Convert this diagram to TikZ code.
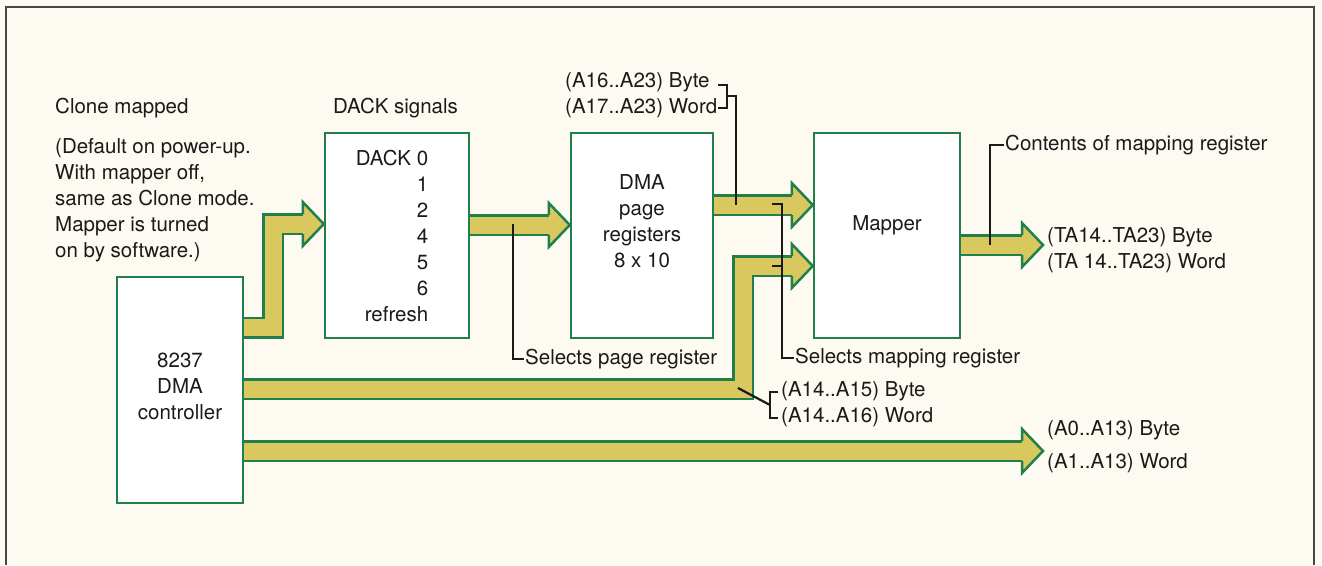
\documentclass[tikz,border=0pt]{standalone}
\usepackage{fontspec}
\setmainfont{TeX Gyre Heros}
\usepackage{xcolor}
\usepackage{tikz}
\usetikzlibrary{arrows.meta,backgrounds,calc}
\definecolor{BusGreen}{HTML}{217F4C}
\definecolor{Mustard}{HTML}{D8C85E}
\definecolor{Paper}{HTML}{FCFAF1}
\definecolor{Ink}{HTML}{1A1A1A}
\definecolor{Frame}{HTML}{484848}

% outlined head of a bus arrow, #1 is the tip
\newcommand{\bushead}[1]{%
  \filldraw[head] ($#1+(-21,-10)$) -- ++(0,-12) -- #1 -- ($#1+(-21,22)$) -- ++(0,-12);}

\begin{document}
\begin{tikzpicture}[
  x=1pt, y=-1pt,
  font=\fontsize{20.5}{26}\selectfont, text=Ink,
  box/.style={draw=BusGreen, line width=2.5pt, fill=white, inner sep=0pt},
  bus/.style={draw=BusGreen, line width=2.5pt, double=Mustard, double distance=17pt,
    line join=miter},
  head/.style={draw=BusGreen, fill=Mustard, line width=2.5pt, line join=miter},
  callout/.style={draw=Ink, line width=2.2pt},
  note/.style={anchor=west, inner sep=1pt}
]
\useasboundingbox (0,0) rectangle (1322,565);

% Frame, open at the bottom.
\draw[Frame, line width=2pt] (6,565) -- (6,7) -- (1314,7) -- (1314,565);

% Boxes.
\node[box, minimum width=126pt, minimum height=226pt] (ctrl) at (180,390) {};
\node[box, minimum width=144pt, minimum height=205pt] (dack) at (397,235.5) {};
\node[box, minimum width=142pt, minimum height=205pt] (page) at (642,235.5) {};
\node[box, minimum width=146pt, minimum height=205pt] (mapper) at (887,235.5) {};

\node[align=center] (ctrltext) at (180,386) {8237\\DMA\\controller};
\node[align=right] (dacktext) at (392,235.5) {DACK 0\\1\\2\\4\\5\\6\\refresh};
\node[align=center] (pagetext) at (642,221) {DMA\\page\\registers\\8 x 10};
\node (mappertext) at (887,225) {Mapper};

% Headings and labels.
\node[note] (clonehead) at (54,108) {Clone mapped};
\node[note, align=left] (clonenote) at (54,200.5)
  {(Default on power-up.\\With mapper off,\\same as Clone mode.\\Mapper is turned\\on by software.)};
\node[note] (dackhead) at (332,108) {DACK signals};
\node[note] (pagebyte) at (564,82) {(A16..A23) Byte};
\node[note] (pageword) at (564,108) {(A17..A23) Word};
\node[note] (contents) at (1004,145) {Contents of mapping register};
\node[note] (outbyte) at (1046,237) {(TA14..TA23) Byte};
\node[note] (outword) at (1046,263) {(TA 14..TA23) Word};
\node[note] (selpage) at (524,359) {Selects page register};
\node[note] (selmap) at (794,358) {Selects mapping register};
\node[note] (lowbyte) at (780,391) {(A14..A15) Byte};
\node[note] (lowword) at (780,417) {(A14..A16) Word};
\node[note] (addrbyte) at (1046,430) {(A0..A13) Byte};
\node[note] (addrword) at (1046,463) {(A1..A13) Word};

% Arrow tips.
\coordinate (dackin) at (dack.west |- 0,224);
\coordinate (pagein) at (page.west |- 0,225);
\coordinate (mapin) at (mapper.west |- 0,205);
\coordinate (mapin2) at (mapper.west |- 0,266);
\coordinate (mapout) at (1043,245);
\coordinate (addrout) at (1043,451);

% Buses, kept under the boxes.
\begin{scope}[on background layer]
  \fill[Paper] (0,0) rectangle (1322,565);
  \draw[bus] (ctrl.east |- 0,327.5) -| (273,224) -- ([xshift=-20pt]dackin);
  \draw[bus] (dack.east |- pagein) -- ([xshift=-20pt]pagein);
  \draw[bus] (page.east |- mapin) -- ([xshift=-20pt]mapin);
  \draw[bus] (ctrl.east |- 0,389) -| (743,266) -- ([xshift=-20pt]mapin2);
  \draw[bus] (mapper.east |- mapout) -- ([xshift=-20pt]mapout);
  \draw[bus] (ctrl.east |- addrout) -- ([xshift=-20pt]addrout);
  \bushead{(dackin)}
  \bushead{(pagein)}
  \bushead{(mapin)}
  \bushead{(mapin2)}
  \bushead{(mapout)}
  \bushead{(addrout)}
\end{scope}

% Callout lines.
\draw[callout] (513,224) |- (selpage.west);
\draw[callout] (772,204) -- (782,204) |- (selmap.west);
\draw[callout] (772,266) -- (782,266);
\draw[callout] (718,85) -- (727,85) -- (727,108) -- (718,108);
\draw[callout] (727,96) -| (736,205);
\draw[callout] (contents.west) -| (990,245);
\draw[callout] (738,388) -- (770,405);
\draw[callout] (778,392) -- (770,392) -- (770,418) -- (778,418);
\end{tikzpicture}
\end{document}
